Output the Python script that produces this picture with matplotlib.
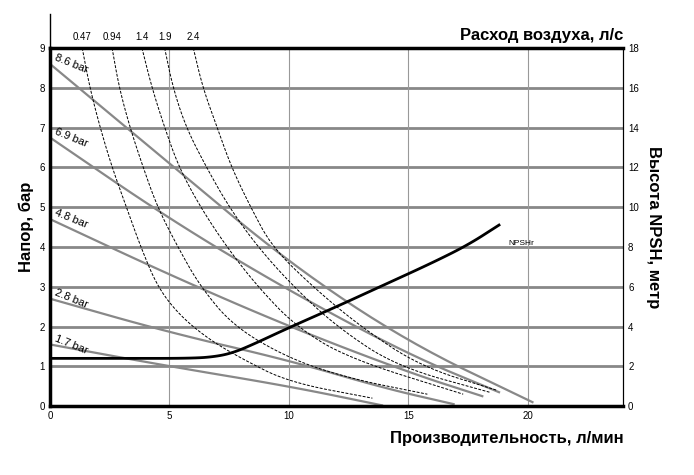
import matplotlib.pyplot as plt
import numpy as np

# pressure lines (inlet air pressure), bar
bar_labels = ['8.6 bar', '6.9 bar', '4.8 bar', '2.8 bar', '1.7 bar']
bar_x = [[0, 5, 10, 15, 20.2],
         [0, 5, 10, 15, 18.8],
         [0, 5, 10, 15, 18.1],
         [0, 5, 10, 14, 16.9],
         [0, 5, 10, 13.9]]
bar_y = [[8.6, 6.1, 3.6, 1.6, 0.1],
         [6.75, 4.7, 2.9, 1.3, 0.35],
         [4.7, 3.3, 2.0, 0.85, 0.25],
         [2.7, 1.85, 1.15, 0.45, 0.05],
         [1.55, 1.0, 0.5, 0.02]]

# air consumption curves, l/s
air_labels = ['0.47', '0.94', '1.4', '1.9', '2.4']
air_x = [[1.35, 1.67, 2.1, 2.6, 3.2, 3.8, 4.5, 5.4, 6.6, 8.0, 10.0, 13.5],
         [2.6, 2.9, 3.35, 3.9, 4.5, 5.35, 6.3, 7.7, 10.0, 12.5, 15.8],
         [3.85, 4.27, 4.8, 5.4, 6.3, 7.4, 8.7, 10.3, 12.5, 17.3],
         [4.8, 5.15, 5.7, 6.55, 7.5, 8.7, 10.2, 12.0, 14.5, 18.4],
         [6.0, 6.4, 7.0, 7.6, 8.4, 9.3, 11.0, 13.0, 15.5, 18.7]]
air_y = [[9, 8, 7, 6, 5, 4, 3, 2.3, 1.7, 1.2, 0.6, 0.2],
         [9, 8, 7, 6, 5, 4, 3, 2, 1.2, 0.7, 0.3],
         [9, 8, 7, 6, 5, 4, 3, 2, 1.2, 0.3],
         [9, 8, 7, 6, 5, 4, 3, 2, 1, 0.35],
         [9, 8, 7, 6, 5, 4, 3, 2, 1, 0.4]]

# NPSHr, metres (right axis)
npsh_x = [0, 3, 6, 7, 7.7, 8.5, 10, 12, 14, 16, 17.5, 18.8]
npsh_y = [2.4, 2.4, 2.4, 2.5, 2.7, 3.1, 3.94, 5.0, 6.1, 7.2, 8.1, 9.1]


def smooth(xs, ys, n=3):
    # Chaikin corner cutting so the read-off points draw as a curve
    p = np.column_stack([xs, ys]).astype(float)
    for _ in range(n):
        q = 0.75 * p[:-1] + 0.25 * p[1:]
        r = 0.25 * p[:-1] + 0.75 * p[1:]
        mid = np.empty((2 * len(q), 2))
        mid[0::2] = q
        mid[1::2] = r
        p = np.vstack([p[:1], mid, p[-1:]])
    return p[:, 0], p[:, 1]


plt.rcParams['font.family'] = ['Liberation Sans', 'DejaVu Sans']

fig = plt.figure(figsize=(6.94, 4.75), dpi=100)
ax = fig.add_axes([0.072, 0.145, 0.826, 0.754])
ax.set_xlim(0, 24)
ax.set_ylim(0, 9)
ax.set_xticks([0, 5, 10, 15, 20])
ax.set_yticks(range(10))
ax.tick_params(labelsize=7, length=0)
for y in range(1, 9):
    ax.axhline(y, color='#888888', lw=2, zorder=1)
for x in [5, 10, 15, 20]:
    ax.axvline(x, color='#999999', lw=0.8, zorder=1)
for s in ['left', 'bottom', 'top']:
    ax.spines[s].set_linewidth(2.5)
ax.spines['right'].set_linewidth(0.8)

for lab, xs, ys in zip(bar_labels, bar_x, bar_y):
    ax.plot(*smooth(xs, ys), color='#888888', lw=1.6, zorder=2)
    ax.text(0.15, ys[0] + 0.05, lab, fontsize=8, rotation=-22,
            ha='left', va='bottom', rotation_mode='anchor', zorder=4)

for lab, xs, ys in zip(air_labels, air_x, air_y):
    ax.plot(*smooth(xs, ys), color='black', lw=0.7, ls=(0, (3, 1.5)), zorder=3)
    ax.text(xs[0], 9.15, lab, fontsize=7, ha='center', va='bottom')

ax2 = ax.twinx()
ax2.set_ylim(0, 18)
ax2.set_yticks(range(0, 19, 2))
ax2.tick_params(labelsize=7, length=0)
ax2.spines['right'].set_linewidth(0.8)
ax2.spines['top'].set_visible(False)
ax2.plot(*smooth(npsh_x, npsh_y), color='black', lw=2, zorder=5)
ax2.text(19.2, 8.1, 'NPSHr', fontsize=6)

ax.set_ylabel('Напор, бар', fontsize=12, fontweight='bold')
ax2.set_ylabel('Высота NPSH, метр', fontsize=12, fontweight='bold', rotation=-90, labelpad=16)
ax.text(1.0, -0.07, 'Производительность, л/мин', transform=ax.transAxes,
        fontsize=12, fontweight='bold', ha='right', va='top')
ax.text(1.0, 1.015, 'Расход воздуха, л/с', transform=ax.transAxes,
        fontsize=12, fontweight='bold', ha='right', va='bottom')
fig.add_artist(plt.Line2D([0.072, 0.072], [0.899, 0.97], color='black', lw=1))

fig.savefig('out.png')
